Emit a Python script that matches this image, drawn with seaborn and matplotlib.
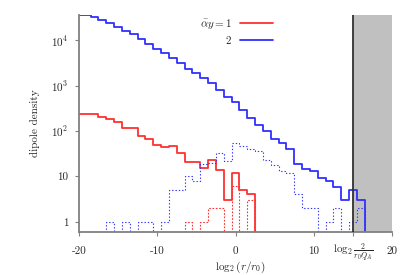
import numpy as np
import pandas as pd
import matplotlib
matplotlib.use("Agg")
import matplotlib.pyplot as plt
import seaborn as sns

# ---- data (bin centres in log2(r/r0), unit-width bins) ----
bin_centers = np.arange(-20, 18)

blue_solid = [36000, 35100, 32300, 27700, 23400, 19700, 16100, 13400, 10400, 8300,
              6460, 5120, 3970, 3080, 2310, 1850, 1440, 1120, 795, 550,
              440, 289, 189, 135, 101, 66, 55, 39, 18.7, 14.3,
              13.1, 9.0, 8.0, 5.9, 3.0, 5.0, 3.0, 0]
red_solid = [232, 240, 240, 206, 183, 157, 114, 116, 77, 66,
             49, 45, 46, 32, 21, 21, 15, 23, 13.8, 3,
             12, 5, 4, 0, 0, 0, 0, 0, 0, 0,
             0, 0, 0, 0, 0, 0, 0, 0]
red_dotted = [0, 0, 0, 0, 0, 0, 0, 0, 0, 0,
              0, 0, 0, 0, 1, 0, 1, 2, 2, 0,
              6, 0, 3, 0, 0, 0, 0, 0, 0, 0,
              0, 0, 0, 0, 0, 0, 0, 0]
blue_dotted = [0, 0, 0, 0, 1, 0, 1, 0, 1, 1,
               0, 1, 5, 5, 10, 8, 19, 20, 33, 22,
               55, 46, 41, 37, 23, 18, 13, 12, 4, 2,
               2, 0, 1, 2, 0, 1, 2, 0]

x_ticks = [-20, -10, 0, 10, 15, 20]
x_tick_labels = ["-20", "-10", "0", "10", r"$\log_2\frac{2}{r_0Q_A}$", "20"]
y_ticks = [1, 10, 100, 1000, 10000]
y_tick_labels = ["1", "10", r"$10^2$", r"$10^3$", r"$10^4$"]
cutoff = 15
x_range = (-20, 20)
y_range = (0.6, 3.65e4)
legend_labels = [r"$\bar{\alpha}y = 1$", r"$2$"]

# ---- style ----
sns.set_theme(style="ticks")
plt.rcParams["font.family"] = ["cmr10", "DejaVu Serif"]
plt.rcParams["mathtext.fontset"] = "cm"
plt.rcParams["axes.unicode_minus"] = False
plt.rcParams["axes.formatter.use_mathtext"] = True

RED = "#ff3030"
BLUE = "#3030ff"
GREY = "#808080"

df = pd.DataFrame({
    "center": bin_centers,
    "blue_solid": blue_solid,
    "red_solid": red_solid,
    "red_dotted": red_dotted,
    "blue_dotted": blue_dotted,
})
bin_range = (float(bin_centers[0]) - 0.5, float(bin_centers[-1]) + 0.5)

fig = plt.figure(figsize=(4.15, 2.75), dpi=100)
ax = fig.add_axes([0.19, 0.157, 0.755, 0.79])

series = [
    ("red_solid", RED, "-", 1.3),
    ("blue_solid", BLUE, "-", 1.3),
    ("red_dotted", RED, (0, (1.5, 1.5)), 0.8),
    ("blue_dotted", BLUE, (0, (1.2, 1.8)), 0.8),
]
for col, color, ls, lw in series:
    sns.histplot(data=df, x="center", weights=col, binwidth=1, binrange=bin_range,
                 element="step", fill=False, color=color, linestyle=ls,
                 linewidth=lw, ax=ax)

ax.set_yscale("log")
ax.axvspan(cutoff, x_range[1], color="#c0c0c0", lw=0, zorder=0)
ax.axvline(cutoff, color="#303030", lw=1.3, zorder=3)

ax.set_xlim(*x_range)
ax.set_ylim(*y_range)
ax.set_xticks(x_ticks)
ax.set_xticklabels(x_tick_labels)
ax.set_yticks(y_ticks)
ax.set_yticklabels(y_tick_labels)
ax.yaxis.set_minor_locator(matplotlib.ticker.NullLocator())
ax.xaxis.set_minor_locator(matplotlib.ticker.NullLocator())

for lab in ax.get_xticklabels():
    lab.set_verticalalignment("baseline")
ax.tick_params(axis="x", direction="out", length=3, width=0.8, color=GREY,
               labelsize=8, pad=13)
ax.tick_params(axis="y", direction="out", length=3, width=0.8, color=GREY,
               labelsize=8, pad=4.5)

for side in ("top", "right"):
    ax.spines[side].set_visible(False)
for side in ("left", "bottom"):
    ax.spines[side].set_color(GREY)
    ax.spines[side].set_linewidth(1.3)

ax.set_ylabel("dipole density", fontsize=8)
ax.yaxis.set_label_coords(-0.125, 0.5)
ax.set_xlabel(r"$\log_2(r/r_0)$", fontsize=8)
ax.xaxis.set_label_coords(0.515, -0.13)

handles = [ax.lines[0], ax.lines[1]]
leg = ax.legend(handles, legend_labels, loc="upper right",
                bbox_to_anchor=(0.62, 0.99), frameon=False, markerfirst=False,
                fontsize=8, handlelength=3.0, handletextpad=0.7,
                borderpad=0, borderaxespad=0, labelspacing=0.25)

fig.savefig("out.png", dpi=100)
